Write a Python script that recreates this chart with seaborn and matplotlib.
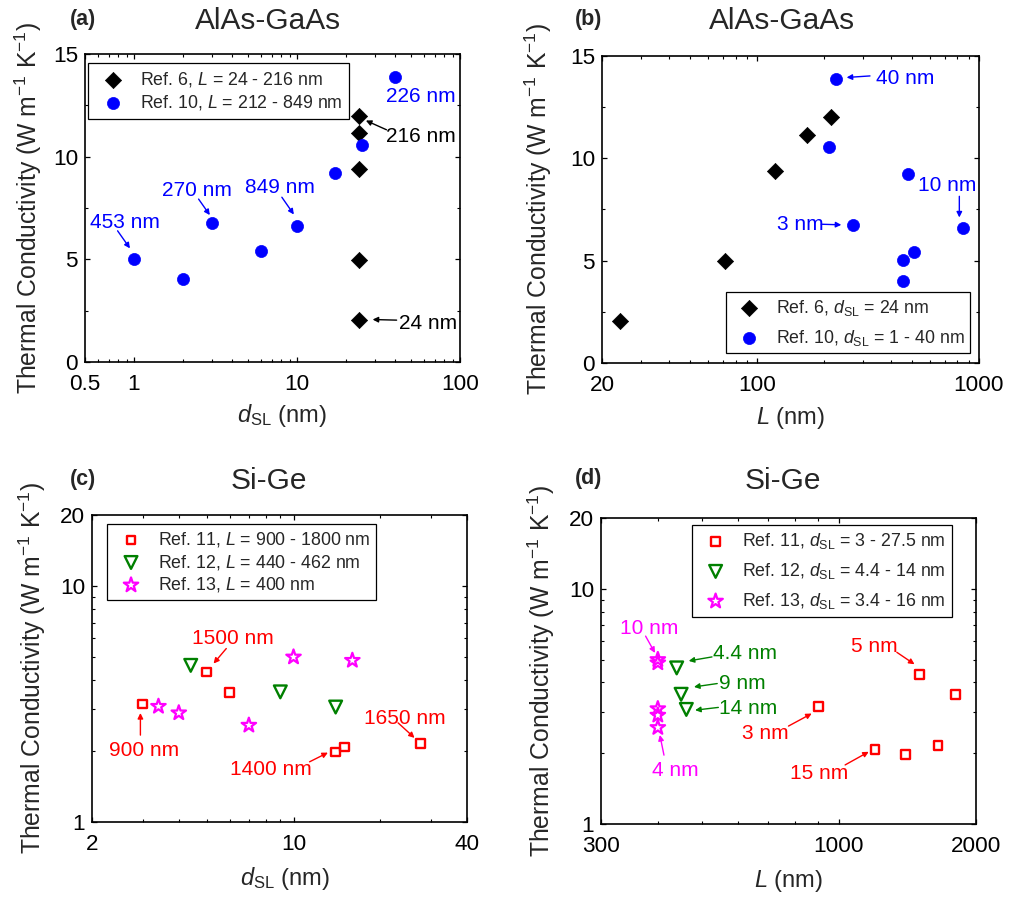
import numpy as np
import pandas as pd
import matplotlib
matplotlib.use("Agg")
import matplotlib.pyplot as plt
from matplotlib.ticker import LogLocator, NullFormatter, MultipleLocator, FixedLocator
import seaborn as sns

# ---------------- data ----------------
# AlAs-GaAs, Ref. 6
ref6_dsl = [24, 24, 24, 24, 24]
ref6_L = [24, 72, 120, 168, 216]
ref6_k = [2.05, 4.96, 9.40, 11.14, 12.0]
# AlAs-GaAs, Ref. 10
ref10_dsl = [1, 2, 3, 6, 10, 17, 25, 40]
ref10_L = [453, 455, 270, 509, 849, 480, 212, 226]
ref10_k = [5.03, 4.02, 6.75, 5.43, 6.62, 9.22, 10.56, 13.86]
# Si-Ge, Ref. 11
ref11_dsl = [3, 5, 6, 14, 15, 27.5]
ref11_L = [900, 1500, 1800, 1400, 1200, 1650]
ref11_k = [3.16, 4.32, 3.54, 1.98, 2.08, 2.15]
# Si-Ge, Ref. 12
ref12_dsl = [4.4, 9, 14]
ref12_L = [440, 450, 462]
ref12_k = [4.61, 3.56, 3.07]
# Si-Ge, Ref. 13
ref13_dsl = [3.4, 4, 7, 10, 16]
ref13_L = [400, 400, 400, 400, 400]
ref13_k = [3.09, 2.90, 2.57, 5.00, 4.84]

# tick labels
xa_ticks = [0.5, 1, 10, 100]
xb_ticks = [20, 100, 1000]
xc_ticks = [2, 10, 40]
xd_ticks = [300, 1000, 2000]
y_lin_ticks = [0, 5, 10, 15]
y_log_ticks = [1, 10, 20]

df6 = pd.DataFrame({"dsl": ref6_dsl, "L": ref6_L, "k": ref6_k})
df10 = pd.DataFrame({"dsl": ref10_dsl, "L": ref10_L, "k": ref10_k})
df11 = pd.DataFrame({"dsl": ref11_dsl, "L": ref11_L, "k": ref11_k})
df12 = pd.DataFrame({"dsl": ref12_dsl, "L": ref12_L, "k": ref12_k})
df13 = pd.DataFrame({"dsl": ref13_dsl, "L": ref13_L, "k": ref13_k})

# ---------------- style ----------------
sns.set_style("ticks")
plt.rcParams["font.family"] = ["Liberation Sans", "DejaVu Sans"]
plt.rcParams["mathtext.fontset"] = "custom"
plt.rcParams["mathtext.rm"] = "Liberation Sans"
plt.rcParams["mathtext.it"] = "Liberation Sans:italic"
plt.rcParams["mathtext.bf"] = "Liberation Sans:bold"
plt.rcParams["axes.linewidth"] = 1.2
plt.rcParams["axes.edgecolor"] = "black"

BLUE = "#0000FF"
RED = "#FF0000"
GREEN = "#008000"
MAG = "#FF00FF"

fig = plt.figure(figsize=(10.09, 8.97), dpi=100)
axa = fig.add_axes([0.0842, 0.5964, 0.3717, 0.3434])
axb = fig.add_axes([0.5966, 0.5953, 0.3736, 0.3423])
axc = fig.add_axes([0.0912, 0.0836, 0.3717, 0.3423])
axd = fig.add_axes([0.5956, 0.0814, 0.3717, 0.3411])

YLAB = r"Thermal Conductivity (W m$^{-1}$ K$^{-1}$)"


def style_axis(ax):
    ax.tick_params(which="both", direction="in", top=True, right=True,
                   colors="black", labelcolor="black")
    ax.tick_params(which="major", length=3.8, width=0.9, labelsize=16.2)
    ax.tick_params(which="minor", length=2.2, width=0.8)
    ax.tick_params(axis="x", which="major", pad=8.6)
    ax.tick_params(axis="y", which="major", pad=5)
    for s in ax.spines.values():
        s.set_visible(True)
        s.set_linewidth(1.2)
        s.set_color("black")


def set_logx(ax, lim, ticks):
    ax.set_xscale("log")
    ax.set_xlim(*lim)
    ax.xaxis.set_major_locator(FixedLocator(ticks))
    ax.set_xticklabels([("%g" % t) for t in ticks])
    ax.xaxis.set_minor_locator(LogLocator(base=10, subs=np.arange(2, 10)))
    ax.xaxis.set_minor_formatter(NullFormatter())


def set_logy(ax):
    ax.set_yscale("log")
    ax.set_ylim(1, 20)
    ax.yaxis.set_major_locator(FixedLocator(y_log_ticks))
    ax.set_yticklabels([("%g" % t) for t in y_log_ticks])
    ax.yaxis.set_minor_locator(LogLocator(base=10, subs=np.arange(2, 10)))
    ax.yaxis.set_minor_formatter(NullFormatter())


def set_liny(ax):
    ax.set_ylim(0, 15)
    ax.yaxis.set_major_locator(FixedLocator(y_lin_ticks))
    ax.yaxis.set_minor_locator(MultipleLocator(2.5))


def note(ax, text, txy, color, tail=None, tip=None, fs=15):
    ax.text(txy[0], txy[1], text, transform=ax.transAxes, color=color,
            fontsize=fs, ha="left", va="center_baseline", zorder=5)
    if tail is not None:
        ax.annotate("", xy=tip, xytext=tail, xycoords="axes fraction",
                    textcoords="axes fraction",
                    arrowprops=dict(arrowstyle="-|>", color=color, lw=1.0,
                                    mutation_scale=8, shrinkA=0, shrinkB=0),
                    zorder=5)


def labels(ax, title, tx, ty, ylab_x, xlab, xlab_xy):
    ax.text(tx, ty, title, transform=ax.transAxes, fontsize=21.5,
            ha="center", va="baseline")
    ax.set_ylabel(YLAB, fontsize=17.8)
    ax.yaxis.set_label_coords(ylab_x, 0.5)
    ax.set_xlabel(xlab, fontsize=17)
    ax.xaxis.set_label_coords(*xlab_xy)


def legend(ax, loc, anchor, lab_space=0.22, bpad=0.4):
    leg = ax.legend(loc=loc, bbox_to_anchor=anchor, borderaxespad=0,
                    fontsize=12.8, frameon=True, fancybox=False, shadow=False,
                    framealpha=1, edgecolor="black", handlelength=2.0,
                    handletextpad=0.5, borderpad=bpad, labelspacing=lab_space,
                    scatterpoints=1)
    leg.get_frame().set_linewidth(0.9)
    return leg


# ---------------- (a) ----------------
ax = axa
sns.scatterplot(data=df6, x="dsl", y="k", ax=ax, marker="D", s=68,
                color="black", edgecolor="black", linewidth=0.5,
                label=r"Ref. 6, $\it{L}$ = 24 - 216 nm", zorder=3)
sns.scatterplot(data=df10, x="dsl", y="k", ax=ax, marker="o", s=76,
                color=BLUE, edgecolor=BLUE, linewidth=0.5,
                label=r"Ref. 10, $\it{L}$ = 212 - 849 nm", zorder=3)
set_logx(ax, (0.5, 100), xa_ticks)
set_liny(ax)
style_axis(ax)
labels(ax, "AlAs-GaAs", 0.488, 1.081, -0.11,
       r"$\it{d}_{\rm{SL}}$ (nm)", (0.525, -0.13))
legend(ax, "upper left", (0.008, 0.971))
note(ax, "453 nm", (0.013, 0.459), BLUE, (0.087, 0.426), (0.120, 0.369))
note(ax, "270 nm", (0.206, 0.562), BLUE, (0.303, 0.529), (0.333, 0.477))
note(ax, "849 nm", (0.428, 0.573), BLUE, (0.525, 0.535), (0.557, 0.479))
note(ax, "226 nm", (0.804, 0.868), BLUE)
note(ax, "216 nm", (0.804, 0.738), "black", (0.804, 0.754), (0.749, 0.784))
note(ax, "24 nm", (0.837, 0.130), "black", (0.831, 0.136), (0.767, 0.138))

# ---------------- (b) ----------------
ax = axb
sns.scatterplot(data=df6, x="L", y="k", ax=ax, marker="D", s=68,
                color="black", edgecolor="black", linewidth=0.5,
                label=r"Ref. 6, $\it{d}_{\rm{SL}}$ = 24 nm", zorder=3)
sns.scatterplot(data=df10, x="L", y="k", ax=ax, marker="o", s=76,
                color=BLUE, edgecolor=BLUE, linewidth=0.5,
                label=r"Ref. 10, $\it{d}_{\rm{SL}}$ = 1 - 40 nm", zorder=3)
set_logx(ax, (20, 1000), xb_ticks)
set_liny(ax)
style_axis(ax)
labels(ax, "AlAs-GaAs", 0.477, 1.088, -0.127,
       r"$\it{L}$ (nm)", (0.5, -0.137))
legend(ax, "lower right", (0.976, 0.033), lab_space=0.55, bpad=0.3)
note(ax, "40 nm", (0.727, 0.933), BLUE, (0.711, 0.935), (0.649, 0.930))
note(ax, "10 nm", (0.839, 0.585), BLUE, (0.948, 0.543), (0.948, 0.474))
note(ax, "3 nm", (0.463, 0.457), BLUE, (0.582, 0.452), (0.635, 0.450))

# ---------------- (c) ----------------
ax = axc
sns.scatterplot(data=df11, x="dsl", y="k", ax=ax, marker="s", s=40,
                facecolor="none", edgecolor=RED, linewidth=1.7,
                label=r"Ref. 11, $\it{L}$ = 900 - 1800 nm", zorder=3)
sns.scatterplot(data=df12, x="dsl", y="k", ax=ax, marker="v", s=84,
                facecolor="none", edgecolor=GREEN, linewidth=1.7,
                label=r"Ref. 12, $\it{L}$ = 440 - 462 nm", zorder=3)
sns.scatterplot(data=df13, x="dsl", y="k", ax=ax, marker="*", s=120,
                facecolor="none", edgecolor=MAG, linewidth=1.6,
                label=r"Ref. 13, $\it{L}$ = 400 nm", zorder=3)
set_logx(ax, (2, 40), xc_ticks)
set_logy(ax)
style_axis(ax)
labels(ax, "Si-Ge", 0.472, 1.085, -0.118,
       r"$\it{d}_{\rm{SL}}$ (nm)", (0.515, -0.14))
legend(ax, "upper left", (0.040, 0.971), lab_space=0.2, bpad=0.35)
note(ax, "1500 nm", (0.267, 0.605), RED, (0.358, 0.565), (0.324, 0.516))
note(ax, "900 nm", (0.045, 0.239), RED, (0.129, 0.283), (0.129, 0.355))
note(ax, "1400 nm", (0.367, 0.176), RED, (0.580, 0.196), (0.629, 0.226))
note(ax, "1650 nm", (0.724, 0.345), RED, (0.816, 0.323), (0.860, 0.274))

# ---------------- (d) ----------------
ax = axd
sns.scatterplot(data=df11, x="L", y="k", ax=ax, marker="s", s=40,
                facecolor="none", edgecolor=RED, linewidth=1.7,
                label=r"Ref. 11, $\it{d}_{\rm{SL}}$ = 3 - 27.5 nm", zorder=3)
sns.scatterplot(data=df12, x="L", y="k", ax=ax, marker="v", s=84,
                facecolor="none", edgecolor=GREEN, linewidth=1.7,
                label=r"Ref. 12, $\it{d}_{\rm{SL}}$ = 4.4 - 14 nm", zorder=3)
sns.scatterplot(data=df13, x="L", y="k", ax=ax, marker="*", s=120,
                facecolor="none", edgecolor=MAG, linewidth=1.6,
                label=r"Ref. 13, $\it{d}_{\rm{SL}}$ = 3.4 - 16 nm", zorder=3)
set_logx(ax, (300, 2000), xd_ticks)
set_logy(ax)
style_axis(ax)
labels(ax, "Si-Ge", 0.485, 1.095, -0.117,
       r"$\it{L}$ (nm)", (0.499, -0.144))
legend(ax, "upper right", (0.936, 0.977), lab_space=0.55, bpad=0.35)
note(ax, "10 nm", (0.052, 0.647), MAG, (0.119, 0.614), (0.144, 0.559))
note(ax, "4.4 nm", (0.300, 0.563), GREEN, (0.296, 0.546), (0.234, 0.533))
note(ax, "9 nm", (0.314, 0.465), GREEN, (0.310, 0.459), (0.248, 0.448))
note(ax, "14 nm", (0.315, 0.383), GREEN, (0.313, 0.381), (0.251, 0.372))
note(ax, "4 nm", (0.135, 0.182), MAG, (0.168, 0.225), (0.157, 0.291))
note(ax, "3 nm", (0.375, 0.301), RED, (0.500, 0.320), (0.562, 0.361))
note(ax, "5 nm", (0.667, 0.587), RED, (0.789, 0.561), (0.836, 0.522))
note(ax, "15 nm", (0.503, 0.171), RED, (0.651, 0.193), (0.714, 0.236))

# panel letters
for (px, py), lab in zip([(0.069, 0.978), (0.570, 0.978), (0.069, 0.465), (0.570, 0.466)],
                         ["(a)", "(b)", "(c)", "(d)"]):
    fig.text(px, py, lab, fontsize=15.5, fontweight="bold", ha="left", va="center")

fig.savefig("out.png", dpi=100)
